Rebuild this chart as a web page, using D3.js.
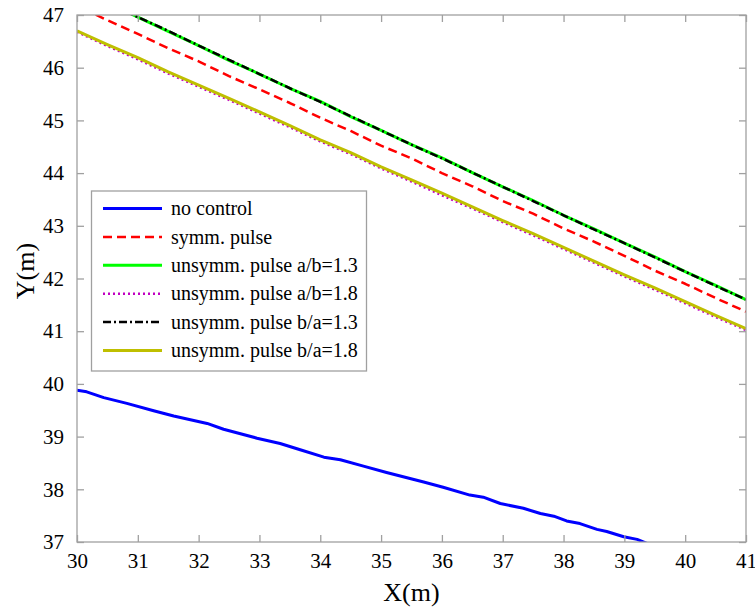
<!DOCTYPE html>
<html><head><meta charset="utf-8">
<script src="https://cdn.jsdelivr.net/npm/d3@7"></script>
<style>
body{margin:0;background:#fff}svg{display:block}
svg text{font-family:"Liberation Serif","Times New Roman",serif;}
</style>
</head><body><svg id="c" width="755" height="609" font-family="Liberation Serif"></svg>
<script>
const xTicks = [30,31,32,33,34,35,36,37,38,39,40,41];
const yTicks = [37,38,39,40,41,42,43,44,45,46,47];
const seriesNames = ["no control","symm. pulse","unsymm. pulse a/b=1.3","unsymm. pulse a/b=1.8","unsymm. pulse b/a=1.3","unsymm. pulse b/a=1.8"];

const noControlX = [30,30.16,30.44,30.82,31.26,31.59,32.14,32.41,32.96,33.34,33.67,34.06,34.33,34.71,35.09,35.70,36.02,36.46,36.68,36.96,37.34,37.62,37.84,38.05,38.27,38.55,38.71,38.99,39.21,39.40];
const noControlY = [39.88,39.85,39.74,39.63,39.49,39.39,39.25,39.14,38.97,38.87,38.75,38.61,38.56,38.44,38.32,38.14,38.04,37.89,37.85,37.73,37.64,37.54,37.49,37.40,37.35,37.24,37.20,37.10,37.05,36.96];

const symmX = [30.1,30.5,31,31.5,32,32.5,33,33.5,34,34.5,35,35.5,36,36.5,37,37.5,38,38.5,39,39.5,40,40.5,41];
const symmY = [47.12,46.90,46.64,46.37,46.12,45.84,45.59,45.33,45.05,44.80,44.52,44.28,44.00,43.75,43.47,43.23,42.95,42.70,42.43,42.15,41.90,41.63,41.37];

const ab13X = [30.8,31,31.5,32,32.5,33,33.5,34,34.5,35,35.5,36,36.5,37,37.5,38,38.5,39,39.5,40,40.5,41];
const ab13Y = [47.07,46.96,46.69,46.42,46.14,45.88,45.61,45.36,45.07,44.81,44.54,44.29,44.01,43.74,43.48,43.20,42.94,42.67,42.41,42.13,41.87,41.60];

const ab18X = [30,30.5,31,31.5,32,32.5,33,33.5,34,34.5,35,35.5,36,36.5,37,37.5,38,38.5,39,39.5,40,40.5,41];
const ab18Y = [46.68,46.41,46.16,45.89,45.64,45.39,45.13,44.87,44.60,44.36,44.09,43.84,43.58,43.33,43.07,42.82,42.56,42.30,42.04,41.79,41.53,41.27,41.02];

const ba13X = [30.8,31,31.5,32,32.5,33,33.5,34,34.5,35,35.5,36,36.5,37,37.5,38,38.5,39,39.5,40,40.5,41];
const ba13Y = [47.07,46.96,46.70,46.42,46.15,45.88,45.61,45.35,45.08,44.81,44.54,44.28,44.01,43.74,43.47,43.20,42.93,42.67,42.40,42.13,41.86,41.60];

const ba18X = [30,30.5,31,31.5,32,32.5,33,33.5,34,34.5,35,35.5,36,36.5,37,37.5,38,38.5,39,39.5,40,40.5,41];
const ba18Y = [46.70,46.44,46.19,45.92,45.67,45.42,45.16,44.90,44.63,44.39,44.12,43.87,43.62,43.36,43.10,42.85,42.59,42.33,42.07,41.82,41.56,41.30,41.05];

const colors = ["#0000ff","#ff0000","#00ff00","#c000c0","#000000","#bfbf00"];
const dashes = [null,"9,5",null,"2,3","8,3,2,3",null];
const widths = [3,2.5,3,2.5,2.5,3];

const FF = "Liberation Serif";
const svg = d3.select("#c");
const m = {l:77,t:15,r:746,b:542};
const x = d3.scaleLinear().domain([30,41]).range([m.l,m.r]);
const y = d3.scaleLinear().domain([37,47]).range([m.b,m.t]);

svg.append("defs").append("clipPath").attr("id","clip").append("rect")
  .attr("x",m.l).attr("y",m.t).attr("width",m.r-m.l).attr("height",m.b-m.t);

const axisCol = "#a0a0a0";

const series = [
  [noControlX,noControlY],[symmX,symmY],[ab13X,ab13Y],[ab18X,ab18Y],[ba13X,ba13Y],[ba18X,ba18Y]
];
const line = d3.line().x(d=>x(d[0])).y(d=>y(d[1]));
const plot = svg.append("g").attr("clip-path","url(#clip)");
series.forEach((s,i)=>{
  const pts = s[0].map((v,j)=>[v,s[1][j]]);
  const p = plot.append("path").datum(pts).attr("d",line).attr("fill","none")
    .attr("stroke",colors[i]).attr("stroke-width",widths[i]).attr("stroke-linejoin","round");
  if(dashes[i]) p.attr("stroke-dasharray",dashes[i]);
});

const ax = svg.append("g");
ax.append("rect").attr("x",m.l).attr("y",m.t).attr("width",m.r-m.l).attr("height",m.b-m.t)
  .attr("fill","none").attr("stroke",axisCol).attr("stroke-width",1.3);
const xb = ax.append("g").attr("transform",`translate(0,${m.b})`)
  .call(d3.axisBottom(x).tickValues(xTicks).tickSize(-7).tickPadding(11).tickFormat(d3.format("d")));
const xt = ax.append("g").attr("transform",`translate(0,${m.t})`)
  .call(d3.axisTop(x).tickValues(xTicks).tickSize(-7).tickFormat(""));
const yl = ax.append("g").attr("transform",`translate(${m.l},0)`)
  .call(d3.axisLeft(y).tickValues(yTicks).tickSize(-7).tickPadding(13).tickFormat(d3.format("d")));
const yr = ax.append("g").attr("transform",`translate(${m.r},0)`)
  .call(d3.axisRight(y).tickValues(yTicks).tickSize(-7).tickFormat(""));
[xb,xt,yl,yr].forEach(g=>{
  g.attr("font-family",FF).attr("font-size",21).attr("fill",null);
  g.select(".domain").remove();
  g.selectAll(".tick line").attr("stroke",axisCol).attr("stroke-width",1.3);
  g.selectAll(".tick text").attr("fill","#000").attr("font-family",FF).attr("font-size",21);
});
xb.selectAll("text").attr("dy","0.71em");

// legend
const lg = svg.append("g").attr("font-family",FF).attr("font-size",20);
lg.append("rect").attr("x",91.5).attr("y",191).attr("width",275).attr("height",180)
  .attr("fill","#fff").attr("stroke",axisCol).attr("stroke-width",1.3);
seriesNames.forEach((n,i)=>{
  const yy = 208.5 + i*28.4;
  const l = lg.append("line").attr("x1",103).attr("x2",162).attr("y1",yy).attr("y2",yy)
    .attr("stroke",colors[i]).attr("stroke-width",widths[i]);
  if(dashes[i]) l.attr("stroke-dasharray",dashes[i]);
  lg.append("text").attr("x",171).attr("y",yy).attr("dy","0.33em").text(n);
});

svg.append("text").attr("x",(m.l+m.r)/2).attr("y",601).attr("text-anchor","middle")
  .attr("font-family",FF).attr("font-size",26).text("X(m)");
svg.append("text").attr("transform","translate(34,271) rotate(-90)").attr("text-anchor","middle")
  .attr("font-family",FF).attr("font-size",26).text("Y(m)");
</script></body></html>
